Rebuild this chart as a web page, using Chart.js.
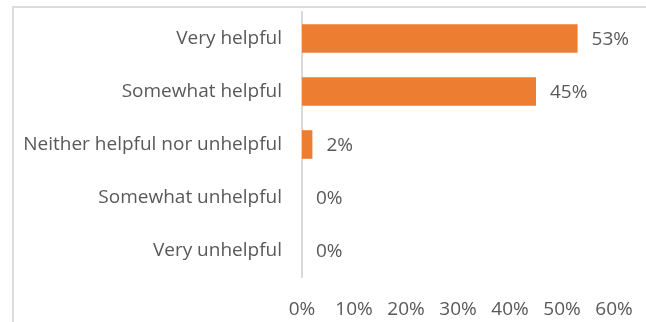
<!DOCTYPE html>
<html>
<head>
<meta charset="utf-8">
<script src="https://cdn.jsdelivr.net/npm/chart.js@4"></script>
<style>
    html, body { margin: 0; padding: 0; background: #fff; }
    #wrap { position: relative; width: 646px; height: 322px; overflow: hidden; }
    #frame {
        position: absolute; left: 12px; top: 6px; width: 700px; height: 320px;
        border: 2px solid #dcdcdc; box-sizing: border-box;
    }
    #helpfulChart { position: absolute; left: 0; top: 0; }
</style>
</head>
<body>
<div id="wrap">
    <div id="frame"></div>
    <canvas id="helpfulChart" width="646" height="322"></canvas>
</div>
<script>
// Survey answers, top to bottom
const categories = [
    'Very helpful',
    'Somewhat helpful',
    'Neither helpful nor unhelpful',
    'Somewhat unhelpful',
    'Very unhelpful'
];
const shares = [53, 45, 2, 0, 0];
const xTicks = [0, 10, 20, 30, 40, 50, 60];

const textColor = '#595959';
const fontFamily = "'Open Sans', 'Liberation Sans', sans-serif";
const fontSize = 19;

// Writes the percentage just past the end of each bar
const valueLabels = {
    id: 'valueLabels',
    afterDatasetsDraw(chart) {
        const ctx = chart.ctx;
        const meta = chart.getDatasetMeta(0);
        ctx.save();
        ctx.fillStyle = textColor;
        ctx.font = fontSize + 'px ' + fontFamily;
        ctx.textAlign = 'left';
        ctx.textBaseline = 'middle';
        meta.data.forEach((bar, i) => {
            ctx.fillText(shares[i] + '%', bar.x + 14, bar.y + 1);
        });
        ctx.restore();
    }
};

const ctx = document.getElementById('helpfulChart').getContext('2d');
new Chart(ctx, {
    type: 'bar',
    data: {
        labels: categories,
        datasets: [{
            data: shares,
            backgroundColor: '#ED7D31',
            borderWidth: 0,
            categoryPercentage: 1,
            barPercentage: 0.54
        }]
    },
    options: {
        indexAxis: 'y',
        responsive: false,
        animation: false,
        layout: { padding: { top: 12, right: 32, bottom: 0, left: 0 } },
        scales: {
            x: {
                min: 0,
                max: 60,
                afterBuildTicks: scale => {
                    scale.ticks = xTicks.map(v => ({ value: v }));
                },
                afterFit: scale => {
                    scale.height = 45;
                    scale.paddingLeft = 0;
                    scale.paddingRight = 0;
                },
                grid: { display: false, drawTicks: false },
                border: { display: false },
                ticks: {
                    padding: 21,
                    color: textColor,
                    font: { family: fontFamily, size: fontSize },
                    maxRotation: 0,
                    callback: v => v + '%'
                }
            },
            y: {
                afterFit: scale => {
                    scale.width = 302;
                    scale.paddingTop = 0;
                    scale.paddingBottom = 0;
                },
                grid: { display: false, drawTicks: false },
                border: { display: true, color: '#d9d9d9', width: 2 },
                ticks: {
                    padding: 20,
                    color: textColor,
                    font: { family: fontFamily, size: fontSize }
                }
            }
        },
        plugins: {
            legend: { display: false },
            tooltip: { enabled: false }
        }
    },
    plugins: [valueLabels]
});
</script>
</body>
</html>
